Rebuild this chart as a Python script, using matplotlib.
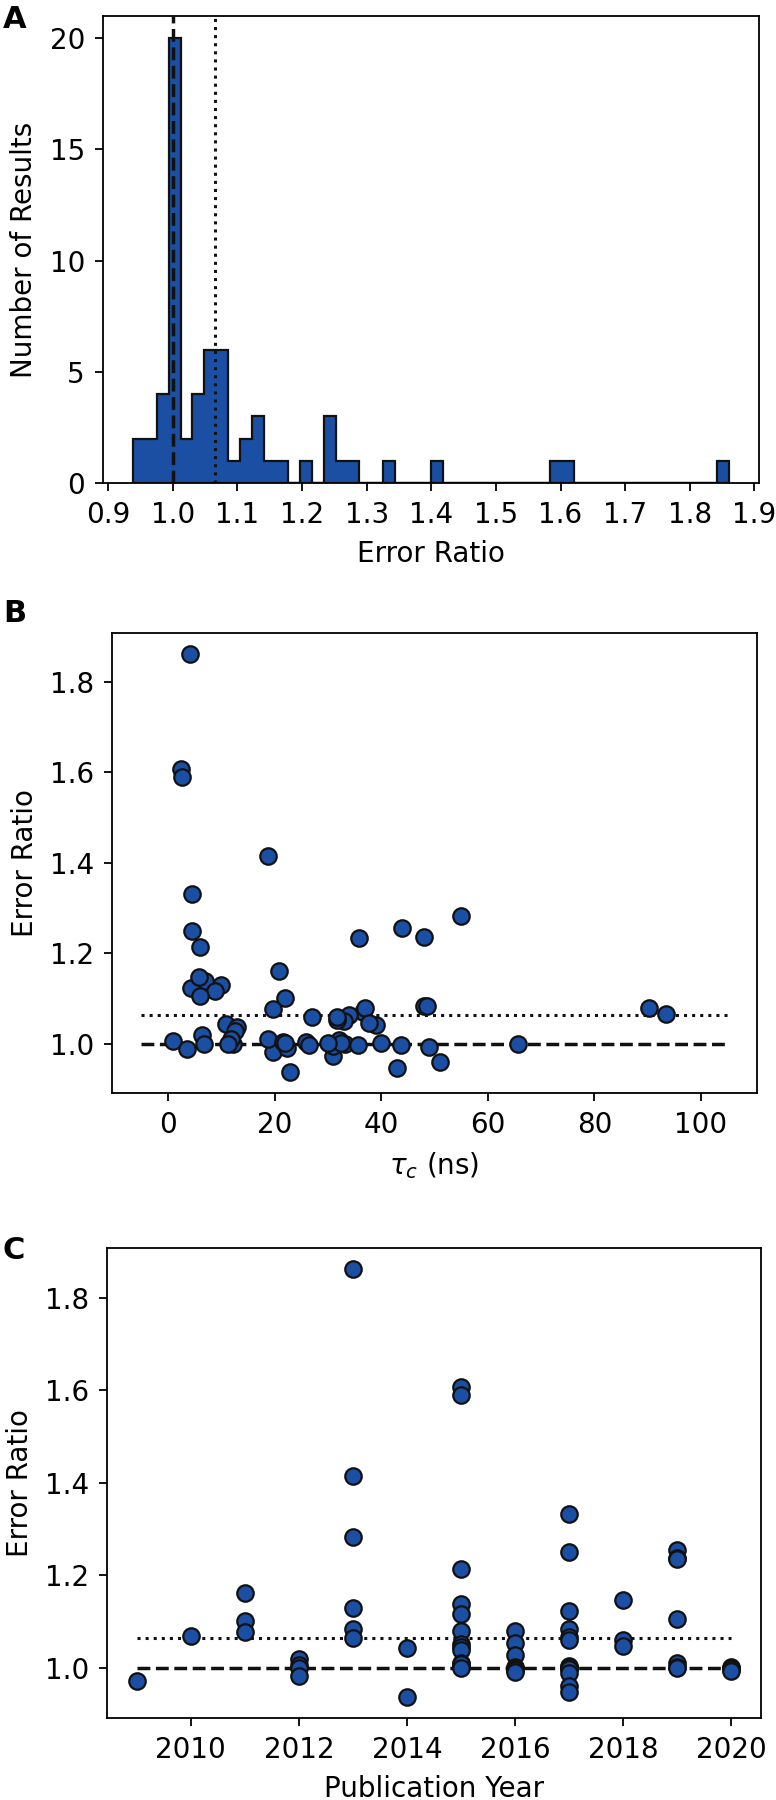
import matplotlib
matplotlib.use("Agg")
import matplotlib.pyplot as plt
import numpy as np

saida = "out.png"

# publication year, rotational correlation time and error ratio of each result
anos = [2009,
        2010,
        2011, 2011, 2011,
        2012, 2012, 2012, 2012,
        2013, 2013, 2013, 2013, 2013, 2013,
        2014, 2014,
        2015, 2015, 2015, 2015, 2015, 2015, 2015, 2015, 2015, 2015, 2015, 2015, 2015,
        2016, 2016, 2016, 2016, 2016, 2016, 2016, 2016,
        2017, 2017, 2017, 2017, 2017, 2017, 2017, 2017, 2017, 2017, 2017, 2017, 2017,
        2018, 2018, 2018,
        2019, 2019, 2019, 2019, 2019, 2019, 2019,
        2020, 2020, 2020, 2020]

tau_c = [31.0,
         36.5,
         20.8, 21.9, 19.7,
         6.4, 0.9, 21.0, 19.7,
         4.2, 18.8, 55.0, 9.9, 48.0, 34.0,
         39.1, 22.9,
         2.5, 2.6, 6.1, 6.9, 8.8, 37.0, 33.0, 10.8, 12.9, 18.8, 25.9, 32.0, 12.2,
         90.2, 31.8, 12.5, 40.0, 33.2, 35.6, 31.0, 22.4,
         4.5, 4.5, 4.4, 48.5, 93.4, 31.8, 21.5, 32.5, 65.6, 43.8, 3.6, 51.1, 42.9,
         5.8, 27.0, 37.8,
         43.9, 48.0, 35.9, 6.0, 11.8, 22.0, 11.3,
         30.0, 6.8, 26.5, 49.0]

razao = [0.9725,
         1.070,
         1.162, 1.101, 1.077,
         1.019, 1.007, 1.000, 0.982,
         1.861, 1.415, 1.282, 1.130, 1.084, 1.064,
         1.043, 0.938,
         1.606, 1.590, 1.213, 1.138, 1.116, 1.079, 1.051, 1.045, 1.038, 1.010, 1.005, 1.008, 1.000,
         1.079, 1.053, 1.028, 1.002, 1.000, 0.998, 0.996, 0.991,
         1.332, 1.250, 1.124, 1.084, 1.066, 1.060, 1.005, 1.002, 1.000, 0.997, 0.990, 0.960, 0.947,
         1.147, 1.060, 1.047,
         1.255, 1.237, 1.235, 1.105, 1.011, 1.003, 0.999,
         1.002, 1.000, 0.998, 0.993]

linha_ref = 1.0
linha_media = 1.065
xticks_hist = [0.9, 1.0, 1.1, 1.2, 1.3, 1.4, 1.5, 1.6, 1.7, 1.8, 1.9]

azul = "#1b4fa4"
plt.rcParams["font.family"] = "DejaVu Sans"
plt.rcParams["font.size"] = 20
plt.rcParams["axes.linewidth"] = 1.3
plt.rcParams["axes.labelpad"] = 8
for eixo_tick in ["xtick", "ytick"]:
    plt.rcParams[eixo_tick + ".major.size"] = 6
    plt.rcParams[eixo_tick + ".major.width"] = 1.3
    plt.rcParams[eixo_tick + ".major.pad"] = 7

W, H = 776, 1800
fig = plt.figure(figsize=(W / 100, H / 100), dpi=100)


def eixo(esq, topo, dir_, base):
    return fig.add_axes([esq / W, 1 - base / H, (dir_ - esq) / W, (base - topo) / H])


ax_a = eixo(103, 16, 759, 483)
ax_b = eixo(112, 633, 757, 1093)
ax_c = eixo(107, 1248, 761, 1718)

# A - histogram
ax_a.hist(razao, bins=50, histtype="stepfilled", facecolor=azul, edgecolor="#111111", linewidth=1.6)
ax_a.axvline(linha_ref, color="#111111", linestyle="--", linewidth=2.5)
ax_a.axvline(linha_media, color="#111111", linestyle=":", linewidth=2.2)
ax_a.set_xticks(xticks_hist)
ax_a.set_xlabel("Error Ratio")
ax_a.set_ylabel("Number of Results")

# B - error ratio vs tau_c
ax_b.plot([-5, 105], [linha_media, linha_media], color="#111111", linestyle=":", linewidth=2.2)
ax_b.plot([-5, 105], [linha_ref, linha_ref], color="#111111", linestyle="--", linewidth=2.5)
ax_b.scatter(tau_c, razao, s=140, c=azul, edgecolors="#111111", linewidths=1.6, zorder=3)
ax_b.set_xlabel(r"$\tau_c$ (ns)")
ax_b.set_ylabel("Error Ratio")

# C - error ratio vs publication year
ax_c.plot([2009, 2020], [linha_media, linha_media], color="#111111", linestyle=":", linewidth=2.2)
ax_c.plot([2009, 2020], [linha_ref, linha_ref], color="#111111", linestyle="--", linewidth=2.5)
ax_c.scatter(anos, razao, s=140, c=azul, edgecolors="#111111", linewidths=1.6, zorder=3)
ax_c.set_xlabel("Publication Year")
ax_c.set_ylabel("Error Ratio")

for letra, y in [("A", 5), ("B", 599), ("C", 1236)]:
    fig.text(3 / W, 1 - y / H, letra, ha="left", va="top", fontsize=22, fontweight="bold")

fig.savefig(saida, dpi=100)
plt.close(fig)
